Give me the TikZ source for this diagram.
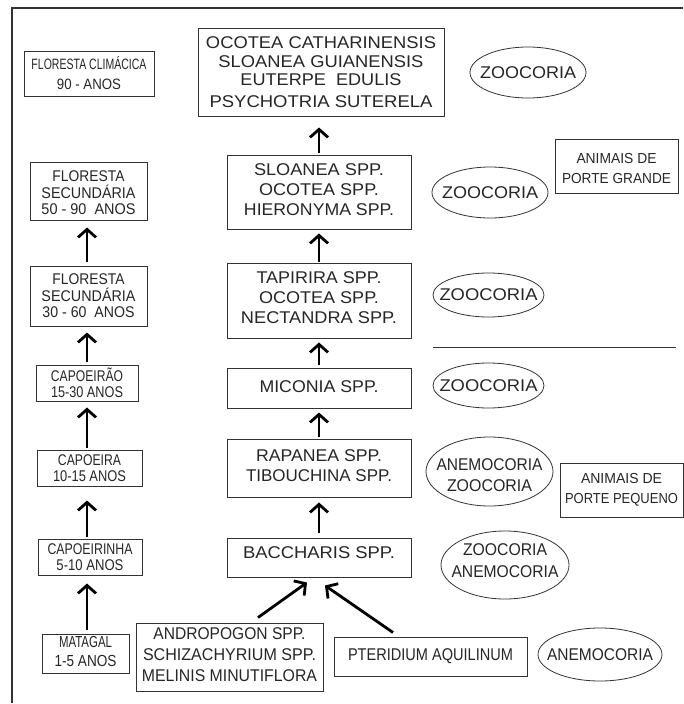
\documentclass[tikz,border=0pt]{standalone}
\usepackage{fontspec}
\usepackage{graphicx}
\setmainfont{Liberation Sans}
\usetikzlibrary{arrows.meta,shapes.geometric,calc}
\definecolor{txt}{HTML}{262626}
\definecolor{brd}{HTML}{333333}
\newcommand\fw[2]{\resizebox{#1pt}{\height}{#2}}
\newcommand\txtup[1]{\rule[-#1pt]{0pt}{#1pt}}
\newcommand\txtdown[1]{\rule{0pt}{#1pt}}
\tikzset{
 box/.style={draw=brd, line width=1pt, rectangle, inner sep=0pt, align=center, text=txt},
 big/.style={font=\fontsize{17}{20}\selectfont},
 small/.style={font=\fontsize{15.5}{16.5}\selectfont},
 tag/.style={font=\fontsize{14.5}{20}\selectfont},
 ell/.style={draw=brd, line width=0.8pt, ellipse, inner sep=0pt},
 etext/.style={text=txt, align=center, font=\fontsize{17}{21.5}\selectfont, inner sep=0pt},
 arr/.style={-{Straight Barb[length=8pt,width=18pt]}, line width=2.8pt, black},
}
\begin{document}
\begin{tikzpicture}[x=1pt,y=-1pt]
\useasboundingbox (0,0) rectangle (683,704);
% frame
\coordinate (fTL) at (12,8);
\coordinate (fTR) at (683,8);
\coordinate (fBL) at (12,703);
\draw[brd, line width=1.2pt] (fBL) -- (fTL) -- (fTR);
\coordinate (lx) at (87,0);
\coordinate (cx) at (319,0);

% left column
\node[box, font=\fontsize{15}{20}\selectfont, minimum width=130, minimum height=45] (flc) at (89,73.5)
 {\fw{115}{FLORESTA CLIMÁCICA}\\\fw{64}{90 - ANOS}};
\node[box, small, minimum width=117, minimum height=58] (fs1) at (88.5,191)
 {\txtdown{15}\fw{72}{FLORESTA}\\\fw{94}{SECUNDÁRIA}\\\fw{94}{50 - 90\ \ ANOS}};
\node[box, small, minimum width=117, minimum height=60] (fs2) at (88.5,296)
 {\fw{72}{FLORESTA}\\\fw{94}{SECUNDÁRIA}\\\fw{92}{30 - 60\ \ ANOS}};
\node[box, small, minimum width=102, minimum height=36] (cao) at (87,383)
 {\fw{72}{CAPOEIRÃO}\\\fw{72}{15-30 ANOS}};
\node[box, small, minimum width=105, minimum height=36] (cap) at (89.5,468)
 {\fw{63}{CAPOEIRA}\\\fw{73}{10-15 ANOS}};
\node[box, small, minimum width=104, minimum height=36] (capi) at (90,557)
 {\fw{85}{CAPOEIRINHA}\\\fw{67}{5-10 ANOS}};
\node[box, font=\fontsize{16}{18.3}\selectfont, minimum width=87, minimum height=39] (mat) at (85.5,653.5)
 {\fw{53}{MATAGAL}\\\fw{62}{1-5 ANOS}\txtup{4}};

% center column
\node[box, big, minimum width=246, minimum height=88] (oc) at (321,72)
 {\fw{230}{OCOTEA CATHARINENSIS}\\[-1.6pt]\fw{205}{SLOANEA GUIANENSIS}\\[-1.6pt]\fw{161}{EUTERPE\ \ EDULIS}\\[1.7pt]\fw{223}{PSYCHOTRIA SUTERELA}};
\node[box, big, minimum width=184, minimum height=74] (sl) at (319,192)
 {\fw{130}{SLOANEA SPP.}\\\fw{120}{OCOTEA SPP.}\\\fw{150}{HIERONYMA SPP.}\txtup{5.6}};
\node[box, big, minimum width=184, minimum height=75] (tap) at (319,300.5)
 {\fw{125}{TAPIRIRA SPP.}\\\fw{120}{OCOTEA SPP.}\\\fw{156}{NECTANDRA SPP.}\txtup{5.4}};
\node[box, big, minimum width=184, minimum height=40] (mic) at (319,388)
 {\fw{119}{MICONIA SPP.}\txtup{2.4}};
\node[box, big, minimum width=184, minimum height=58] (rap) at (319,468)
 {\fw{126}{RAPANEA SPP.}\\\fw{146}{TIBOUCHINA SPP.}\txtup{5}};
\node[box, big, minimum width=184, minimum height=39] (bac) at (319,557.5)
 {\fw{152}{BACCHARIS SPP.}\txtup{9}};
\node[box, big, font=\fontsize{17}{21}\selectfont, minimum width=187, minimum height=68] (andr) at (229.5,657)
 {\fw{152}{ANDROPOGON SPP.}\\\fw{173}{SCHIZACHYRIUM SPP.}\\\fw{175}{MELINIS MINUTIFLORA}\txtup{4}};
\node[box, big, minimum width=193, minimum height=39] (pter) at (430.5,656.5)
 {\fw{165}{PTERIDIUM AQUILINUM}};

% right column tags
\node[box, tag, minimum width=123, minimum height=54] (grande) at (616.5,166)
 {\txtdown{15.5}\fw{80}{ANIMAIS DE}\\\fw{109}{PORTE GRANDE}};
\node[box, tag, minimum width=123, minimum height=54] (pequeno) at (621.5,490)
 {\fw{81}{ANIMAIS DE}\\\fw{113}{PORTE PEQUENO}};

% ellipses
\node[ell, minimum width=116, minimum height=51, label={[name=z1t, etext]center:\fw{96}{ZOOCORIA}}] (z1) at (528,72.5) {};
\node[ell, minimum width=116, minimum height=51, label={[name=z2t, etext]center:\fw{96}{ZOOCORIA}}] (z2) at (490,192.5) {};
\node[ell, minimum width=111, minimum height=44, label={[name=z3t, etext]center:\fw{98}{ZOOCORIA}}] (z3) at (488.5,295) {};
\node[ell, minimum width=111, minimum height=45, label={[name=z4t, etext]center:\fw{98}{ZOOCORIA}}] (z4) at (488.5,385.5) {};
\node[ell, minimum width=127, minimum height=69, label={[name=z5t, etext, yshift=-3.5pt]center:\fw{106}{ANEMOCORIA}\\\fw{85}{ZOOCORIA}}] (z5) at (489.5,471.5) {};
\node[ell, minimum width=128, minimum height=68, label={[name=z6t, etext, yshift=4.2pt]center:\fw{84}{ZOOCORIA}\\\fw{107}{ANEMOCORIA}}] (z6) at (505,565) {};
\node[ell, minimum width=124, minimum height=53, label={[name=z7t, etext]center:\fw{106}{ANEMOCORIA}}] (z7) at (600,654.5) {};

% separator line
\coordinate (sepA) at (433,347);
\coordinate (sepB) at (676,347);
\draw[brd, line width=0.9pt] (sepA) -- (sepB);

% left arrows
\draw[arr, shorten <=4pt, shorten >=8pt] (mat.north -| lx) -- (capi.south -| lx);
\draw[arr, shorten <=2pt, shorten >=14pt] (capi.north -| lx) -- (cap.south -| lx);
\draw[arr, shorten <=2pt, shorten >=6pt] (cap.north -| lx) -- (cao.south -| lx);
\draw[arr, shorten <=3pt, shorten >=6pt] (cao.north -| lx) -- (fs2.south -| lx);
\draw[arr, shorten <=4pt, shorten >=7pt] (fs2.north -| lx) -- (fs1.south -| lx);

% center arrows
\draw[arr, shorten <=5pt, shorten >=5pt] (bac.north -| cx) -- (rap.south -| cx);
\draw[arr, shorten <=2pt, shorten >=4pt] (rap.north -| cx) -- (mic.south -| cx);
\draw[arr, shorten <=3pt, shorten >=4pt] (mic.north -| cx) -- (tap.south -| cx);
\draw[arr, shorten <=1pt, shorten >=4pt] (tap.north -| cx) -- (sl.south -| cx);
\draw[arr, shorten <=2pt, shorten >=11pt] (sl.north -| cx) -- (oc.south -| cx);

% diagonal arrows
\draw[arr] ([xshift=28.5pt,yshift=5pt]andr.north) -- ([xshift=-12pt,yshift=-5pt]bac.south);
\draw[arr] ([xshift=-37.5pt,yshift=4pt]pter.north) -- ([xshift=6pt,yshift=-8pt]bac.south);
\end{tikzpicture}
\end{document}
